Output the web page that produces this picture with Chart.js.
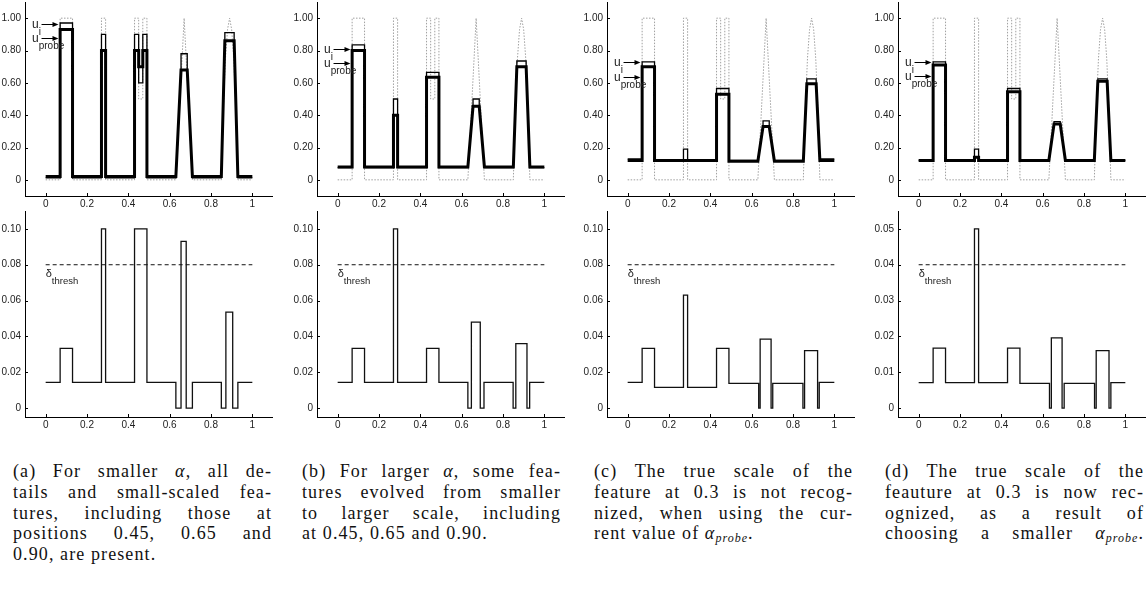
<!DOCTYPE html>
<html>
<head>
<meta charset="utf-8">
<script src="https://cdn.jsdelivr.net/npm/chart.js@4.4.0/dist/chart.umd.min.js"></script>
<style>
    body { margin: 0; background: #fff; width: 1148px; height: 596px; position: relative; overflow: hidden; }
    canvas { position: absolute; }
    .caption { position: absolute; top: 461px; width: 259px; font-family: "Liberation Serif", serif; font-size: 18px; letter-spacing: 1.1px; line-height: 20.8px; color: #111; }
    .caption div { white-space: nowrap; text-align: justify; text-align-last: justify; }
    .caption div.last { text-align-last: left; }
    .caption sub { font-size: 12px; vertical-align: -3px; line-height: 0; letter-spacing: 1px; }
</style>
</head>
<body>
<canvas id="topA" width="273" height="214"></canvas>
<canvas id="topB" width="273" height="214"></canvas>
<canvas id="topC" width="273" height="214"></canvas>
<canvas id="topD" width="273" height="214"></canvas>
<canvas id="errA" width="273" height="226"></canvas>
<canvas id="errB" width="273" height="226"></canvas>
<canvas id="errC" width="273" height="226"></canvas>
<canvas id="errD" width="273" height="226"></canvas>

<div class="caption" style="left:13px">
    <div>(a) For smaller <i>α</i>, all de-</div>
    <div>tails and small-scaled fea-</div>
    <div>tures, including those at</div>
    <div>positions 0.45, 0.65 and</div>
    <div class="last">0.90, are present.</div>
</div>
<div class="caption" style="left:302px">
    <div>(b) For larger <i>α</i>, some fea-</div>
    <div>tures evolved from smaller</div>
    <div>to larger scale, including</div>
    <div class="last">at 0.45, 0.65 and 0.90.</div>
</div>
<div class="caption" style="left:594px">
    <div>(c) The true scale of the</div>
    <div>feature at 0.3 is not recog-</div>
    <div>nized, when using the cur-</div>
    <div class="last">rent value of <i>α<sub>probe</sub></i>.</div>
</div>
<div class="caption" style="left:885px">
    <div>(d) The true scale of the</div>
    <div>feauture at 0.3 is now rec-</div>
    <div>ognized, as a result of</div>
    <div>choosing a smaller <i>α<sub>probe</sub></i>.</div>
</div>

<script>
// tick values
const xTicks = [0, 0.2, 0.4, 0.6, 0.8, 1];
const topYTicks = [0, 0.2, 0.4, 0.6, 0.8, 1.0];
const errYTicks = [0, 0.02, 0.04, 0.06, 0.08, 0.10];
const errYTicksD = [0, 0.01, 0.02, 0.03, 0.04, 0.05];

// original signal (dotted grey)
const xSignal = [0, 0.07, 0.07, 0.13, 0.13, 0.27, 0.27, 0.29, 0.29, 0.43, 0.43, 0.45, 0.45, 0.47, 0.47, 0.49, 0.49,
    0.63, 0.67, 0.71, 0.85, 0.86, 0.87, 0.88, 0.89, 0.90, 0.91, 0.92, 0.93, 1.0];
const ySignal = [0, 0, 1, 1, 0, 0, 1, 1, 0, 0, 1, 1, 0.5, 0.5, 1, 1, 0,
    0, 1, 0, 0, 0.45, 0.75, 0.93, 1.0, 0.93, 0.75, 0.45, 0, 0];

// u_i and u_probe share these breakpoints
const xU = [0, 0.07, 0.07, 0.13, 0.13, 0.27, 0.27, 0.29, 0.29, 0.43, 0.43, 0.45, 0.45, 0.47, 0.47, 0.49, 0.49,
    0.63, 0.655, 0.655, 0.685, 0.685, 0.71, 0.85, 0.867, 0.867, 0.912, 0.912, 0.93, 1.0];

const uiA = [0.012, 0.012, 0.97, 0.97, 0.012, 0.012, 0.90, 0.90, 0.012, 0.012, 0.90, 0.90, 0.60, 0.60, 0.90, 0.90, 0.012,
    0.012, 0.68, 0.78, 0.78, 0.68, 0.012, 0.012, 0.86, 0.91, 0.91, 0.86, 0.012, 0.012];
const upA = [0.02, 0.02, 0.93, 0.93, 0.02, 0.02, 0.80, 0.80, 0.02, 0.02, 0.80, 0.80, 0.70, 0.70, 0.80, 0.80, 0.02,
    0.02, 0.68, 0.68, 0.68, 0.68, 0.02, 0.02, 0.86, 0.86, 0.86, 0.86, 0.02, 0.02];

const uiB = [0.075, 0.075, 0.835, 0.835, 0.075, 0.075, 0.50, 0.50, 0.075, 0.075, 0.665, 0.665, 0.665, 0.665, 0.665, 0.665, 0.075,
    0.075, 0.455, 0.50, 0.50, 0.455, 0.075, 0.075, 0.70, 0.735, 0.735, 0.70, 0.075, 0.075];
const upB = [0.08, 0.08, 0.80, 0.80, 0.08, 0.08, 0.40, 0.40, 0.08, 0.08, 0.635, 0.635, 0.635, 0.635, 0.635, 0.635, 0.08,
    0.08, 0.455, 0.455, 0.455, 0.455, 0.08, 0.08, 0.70, 0.70, 0.70, 0.70, 0.08, 0.08];

const uiC = [0.13, 0.13, 0.73, 0.73, 0.12, 0.12, 0.19, 0.19, 0.12, 0.12, 0.565, 0.565, 0.565, 0.565, 0.565, 0.565, 0.12,
    0.12, 0.33, 0.365, 0.365, 0.33, 0.12, 0.12, 0.595, 0.625, 0.625, 0.595, 0.13, 0.13];
const upC = [0.12, 0.12, 0.70, 0.70, 0.12, 0.12, 0.12, 0.12, 0.12, 0.12, 0.53, 0.53, 0.53, 0.53, 0.53, 0.53, 0.115,
    0.115, 0.33, 0.33, 0.33, 0.33, 0.115, 0.115, 0.595, 0.595, 0.595, 0.595, 0.12, 0.12];

const uiD = [0.12, 0.12, 0.73, 0.73, 0.12, 0.12, 0.19, 0.19, 0.12, 0.12, 0.565, 0.565, 0.565, 0.565, 0.565, 0.565, 0.12,
    0.12, 0.345, 0.36, 0.36, 0.345, 0.12, 0.12, 0.61, 0.625, 0.625, 0.61, 0.12, 0.12];
const upD = [0.12, 0.12, 0.71, 0.71, 0.12, 0.12, 0.14, 0.14, 0.12, 0.12, 0.545, 0.545, 0.545, 0.545, 0.545, 0.545, 0.12,
    0.12, 0.345, 0.345, 0.345, 0.345, 0.12, 0.12, 0.61, 0.61, 0.61, 0.61, 0.12, 0.12];

// arrow levels for the u_i / u_probe labels
const labelLevels = [[0.963, 0.877], [0.81, 0.724], [0.726, 0.634], [0.726, 0.64]];

// error indicator, step starts and values (each value holds until the next start)
const xErrA = [0, 0.07, 0.13, 0.27, 0.29, 0.43, 0.49, 0.63, 0.655, 0.68, 0.71, 0.85, 0.872, 0.905, 0.93, 1.0];
const yErrA = [0.0143, 0.0333, 0.0143, 0.10, 0.0143, 0.10, 0.0143, 0, 0.093, 0, 0.0143, 0, 0.0535, 0, 0.0143, 0.0143];
const xErrB = [0, 0.07, 0.13, 0.27, 0.29, 0.43, 0.49, 0.63, 0.647, 0.69, 0.708, 0.849, 0.862, 0.916, 0.929, 1.0];
const yErrB = [0.0143, 0.0333, 0.0143, 0.10, 0.0143, 0.0333, 0.0143, 0, 0.048, 0, 0.0143, 0, 0.036, 0, 0.0143, 0.0143];
const xErrC = [0, 0.07, 0.13, 0.27, 0.29, 0.43, 0.49, 0.634, 0.641, 0.694, 0.702, 0.848, 0.856, 0.919, 0.927, 1.0];
const yErrC = [0.0143, 0.0333, 0.0115, 0.063, 0.0115, 0.0333, 0.0138, 0, 0.0385, 0, 0.0138, 0, 0.032, 0, 0.0143, 0.0143];
const xErrD = [0, 0.07, 0.13, 0.27, 0.29, 0.43, 0.49, 0.633, 0.642, 0.694, 0.704, 0.851, 0.859, 0.921, 0.93, 1.0];
const yErrD = [0.0071, 0.0167, 0.0071, 0.05, 0.0071, 0.0167, 0.0069, 0, 0.0196, 0, 0.0069, 0, 0.016, 0, 0.0071, 0.0071];

const thresholds = [0.08, 0.08, 0.08, 0.04];

// layout
const panelLeft = [0, 292, 582, 873];
const topRowTop = 2;
const errRowTop = 211;
const tickFont = { family: 'Liberation Sans', size: 10 };

function pts(xs, ys) {
    return xs.map((x, i) => ({ x: x, y: ys[i] }));
}

function fmtY(v) {
    return v === 0 ? '0' : v.toFixed(2);
}

// MATLAB style ticks pointing into the plot
const inwardTicks = {
    id: 'inwardTicks',
    afterDraw(chart) {
        const { ctx, chartArea, scales } = chart;
        ctx.save();
        ctx.strokeStyle = '#000';
        ctx.lineWidth = 1;
        ctx.beginPath();
        scales.x.ticks.forEach(t => {
            const px = Math.round(scales.x.getPixelForValue(t.value)) + 0.5;
            ctx.moveTo(px, chartArea.bottom);
            ctx.lineTo(px, chartArea.bottom - 3);
        });
        scales.y.ticks.forEach(t => {
            const py = Math.round(scales.y.getPixelForValue(t.value)) + 0.5;
            ctx.moveTo(chartArea.left, py);
            ctx.lineTo(chartArea.left + 3, py);
        });
        ctx.stroke();
        ctx.restore();
    }
};

function uLabelPlugin(levels) {
    return {
        id: 'uLabels',
        afterDatasetsDraw(chart) {
            const { ctx, scales: { x, y } } = chart;
            const subs = ['i', 'probe'];
            levels.forEach((lv, k) => {
                const py = Math.round(y.getPixelForValue(lv)) + 0.5;
                const x0 = x.getPixelForValue(-0.02);
                const x1 = x.getPixelForValue(0.062);
                const tx = x.getPixelForValue(-0.066);
                ctx.save();
                ctx.strokeStyle = '#000';
                ctx.fillStyle = '#000';
                ctx.lineWidth = 1;
                ctx.beginPath();
                ctx.moveTo(x0, py);
                ctx.lineTo(x1 - 4, py);
                ctx.stroke();
                ctx.beginPath();
                ctx.moveTo(x1, py);
                ctx.lineTo(x1 - 6, py - 2.5);
                ctx.lineTo(x1 - 6, py + 2.5);
                ctx.closePath();
                ctx.fill();
                ctx.fillStyle = '#222';
                ctx.font = '12px "Liberation Sans"';
                ctx.fillText('u', tx, py + 3);
                const w = ctx.measureText('u').width;
                ctx.font = '10px "Liberation Sans"';
                ctx.fillText(subs[k], tx + w, py + 10);
                ctx.restore();
            });
        }
    };
}

function threshLabelPlugin(level) {
    return {
        id: 'threshLabel',
        afterDatasetsDraw(chart) {
            const { ctx, scales: { x, y } } = chart;
            const py = y.getPixelForValue(level);
            const px = x.getPixelForValue(0);
            ctx.save();
            ctx.fillStyle = '#222';
            ctx.font = '11px "Liberation Sans"';
            ctx.fillText('δ', px, py + 12);
            const w = ctx.measureText('δ').width;
            ctx.font = '9.5px "Liberation Sans"';
            ctx.fillText('thresh', px + w, py + 19);
            ctx.restore();
        }
    };
}

function makeScales(yMin, yMax, yTicks) {
    return {
        x: {
            type: 'linear', min: -0.1, max: 1.1,
            grid: { display: false, drawTicks: false },
            border: { display: true, color: '#000', width: 1 },
            ticks: { padding: 2, color: '#222', font: tickFont, autoSkip: false, maxRotation: 0,
                callback: v => String(v) },
            afterBuildTicks: s => { s.ticks = xTicks.map(v => ({ value: v })); },
            afterFit: s => { s.height = 20; s.paddingLeft = 0; s.paddingRight = 0; }
        },
        y: {
            type: 'linear', min: yMin, max: yMax,
            grid: { display: false, drawTicks: false },
            border: { display: true, color: '#000', width: 1 },
            ticks: { padding: 4, color: '#222', font: tickFont, autoSkip: false,
                callback: v => fmtY(v) },
            afterBuildTicks: s => { s.ticks = yTicks.map(v => ({ value: v })); },
            afterFit: s => { s.width = 25; s.paddingTop = 0; s.paddingBottom = 0; }
        }
    };
}

function place(id, idx, top) {
    const c = document.getElementById(id);
    c.style.left = panelLeft[idx] + 'px';
    c.style.top = top + 'px';
    return c;
}

const baseOptions = {
    responsive: false,
    animation: false,
    devicePixelRatio: 1,
    layout: { padding: 0 },
    plugins: { legend: { display: false }, tooltip: { enabled: false } },
    elements: { point: { radius: 0 }, line: { tension: 0, borderJoinStyle: 'miter' } }
};

// Top row: u_i, u_probe and the original signal
const topIds = ['topA', 'topB', 'topC', 'topD'];
const uiSets = [uiA, uiB, uiC, uiD];
const upSets = [upA, upB, upC, upD];

topIds.forEach((id, i) => {
    const c = place(id, i, topRowTop);
    new Chart(c.getContext('2d'), {
        type: 'line',
        data: {
            datasets: [{
                label: 'u_i',
                data: pts(xU, uiSets[i]),
                borderColor: '#000',
                borderWidth: 1.3,
                fill: false
            }, {
                label: 'u_probe',
                data: pts(xU, upSets[i]),
                borderColor: '#000',
                borderWidth: 3,
                fill: false
            }, {
                label: 'signal',
                data: pts(xSignal, ySignal),
                borderColor: '#a0a0a0',
                borderWidth: 1,
                borderDash: [1.5, 1.5],
                fill: false
            }]
        },
        options: Object.assign({}, baseOptions, { scales: makeScales(-0.1, 1.1, topYTicks) }),
        plugins: [inwardTicks, uLabelPlugin(labelLevels[i])]
    });
});

// Bottom row: error indicator with threshold
const errIds = ['errA', 'errB', 'errC', 'errD'];
const errX = [xErrA, xErrB, xErrC, xErrD];
const errY = [yErrA, yErrB, yErrC, yErrD];

errIds.forEach((id, i) => {
    const c = place(id, i, errRowTop);
    const isD = i === 3;
    new Chart(c.getContext('2d'), {
        type: 'line',
        data: {
            datasets: [{
                label: 'delta',
                data: pts(errX[i], errY[i]),
                borderColor: '#111',
                borderWidth: 1.3,
                stepped: true,
                fill: false
            }, {
                label: 'threshold',
                data: [{ x: xTicks[0], y: thresholds[i] }, { x: xTicks[xTicks.length - 1], y: thresholds[i] }],
                borderColor: '#111',
                borderWidth: 1,
                borderDash: [4, 3],
                fill: false
            }]
        },
        options: Object.assign({}, baseOptions, {
            scales: isD ? makeScales(-0.0025, 0.055, errYTicksD) : makeScales(-0.005, 0.11, errYTicks)
        }),
        plugins: [inwardTicks, threshLabelPlugin(thresholds[i])]
    });
});
</script>
</body>
</html>
